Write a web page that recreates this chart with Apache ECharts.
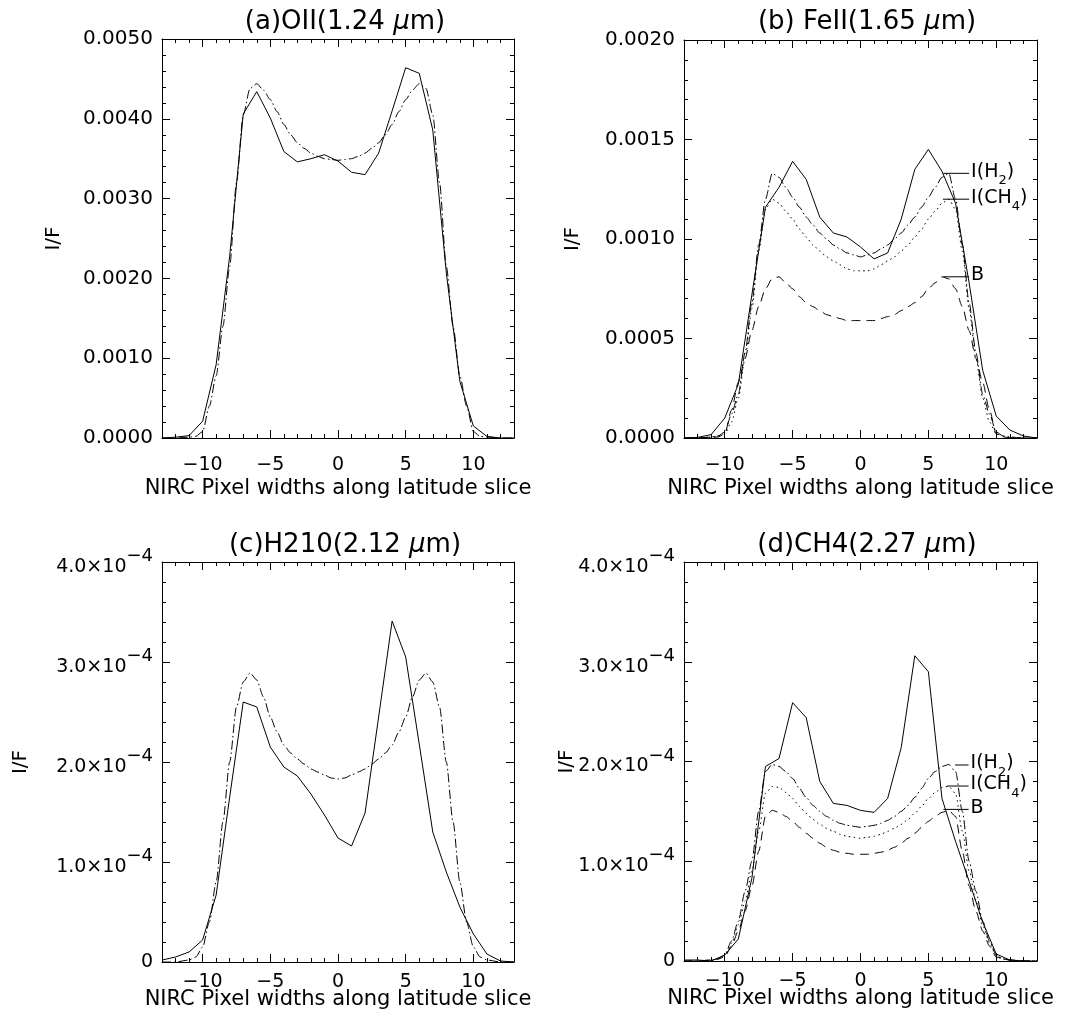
<!DOCTYPE html>
<html><head><meta charset="utf-8">
<script src="https://cdn.jsdelivr.net/npm/echarts@6/dist/echarts.min.js"></script>
<style>html,body{margin:0;padding:0;background:#fff}#c{width:1073px;height:1026px}</style>
</head><body><div id="c"></div>
<script>
// ---------------- data ----------------
const obs_x = [-13,-12,-11,-10,-9,-8,-7,-6,-5,-4,-3,-2,-1,0,1,2,3,4,5,6,7,8,9,10,11,12,13];
const a_obs = [0.00000,0.00001,0.00003,0.00021,0.00092,0.00228,0.00406,0.00434,0.00401,0.00359,0.00346,0.00350,0.00355,0.00347,0.00333,0.00330,0.00357,0.00410,0.00464,0.00457,0.00386,0.00207,0.00071,0.00015,0.00002,0.00000,0.00000];
const b_obs = [0,0.000003,0.000017,0.0001,0.00027,0.00072,0.00116,0.00126,0.00139,0.0013,0.00111,0.00103,0.00101,0.00096,0.0009,0.00093,0.0011,0.00135,0.00145,0.00134,0.00118,0.00078,0.00034,0.00011,0.00004,0.00001,0];
const c_obs = [0.000002,0.000005,0.00001,0.000022,0.000067,0.000165,0.00026,0.000255,0.000215,0.000195,0.000186,0.000168,0.000147,0.000124,0.000116,0.000149,0.000245,0.000341,0.000305,0.000218,0.00013,0.00009,0.000055,0.000028,0.000008,0.000001,0];
const d_obs = [0.000001,0.000001,0,0.000006,0.000022,0.000083,0.000195,0.000203,0.000259,0.000244,0.00018,0.000158,0.000156,0.000151,0.000149,0.000163,0.000214,0.000306,0.00029,0.000163,0.00012,0.00008,0.000039,0.000007,0.000001,0,0];

const model_x = [-13,-12,-11,-10.5,-10,-9.5,-9,-8.5,-8,-7.5,-7,-6.5,-6,-5.5,-5,-4.5,-4,-3.5,-3,-2.5,-2,-1.5,-1,-0.5,0,
                 0.5,1,1.5,2,2.5,3,3.5,4,4.5,5,5.5,6,6.5,7,7.5,8,8.5,9,9.5,10,10.5,11,12,13];
const a_model = [0,0,0.00001,0.00002,0.00008,0.0004,0.00078,0.0014,0.00215,0.0032,0.00405,0.00438,0.00444,0.00436,0.00424,0.00409,0.00393,0.0038,0.0037,0.00363,0.00357,0.00353,0.0035,0.00349,0.00348,
                 0.00349,0.0035,0.00353,0.00357,0.00363,0.0037,0.0038,0.00393,0.00409,0.00424,0.00436,0.00444,0.00438,0.00405,0.0032,0.00215,0.0014,0.00078,0.0004,0.00008,0.00002,0.00001,0,0];
const b_h2 = [0,0,0.000005,0.00001,0.00003,0.00012,0.00022,0.00043,0.00068,0.00097,0.0012,0.00133,0.00131,0.00126,0.00121,0.00116,0.00111,0.00107,0.00103,0.001,0.00097,0.00095,0.00093,0.00092,0.00091,
              0.00092,0.00093,0.00095,0.00097,0.001,0.00103,0.00107,0.00111,0.00116,0.00121,0.00126,0.00131,0.00133,0.0012,0.00097,0.00068,0.00043,0.00022,0.00012,0.00003,0.00001,0.000005,0,0];
const b_ch4 = [0,0,0.000003,0.00001,0.00002,0.00008,0.0002,0.0004,0.00065,0.00094,0.00115,0.0012,0.00118,0.00114,0.0011,0.00105,0.00101,0.00097,0.00094,0.00091,0.00089,0.00087,0.00085,0.00084,0.00084,
               0.00084,0.00085,0.00087,0.00089,0.00091,0.00094,0.00097,0.00101,0.00105,0.0011,0.00114,0.00118,0.0012,0.00115,0.00094,0.00065,0.0004,0.0002,0.00008,0.00002,0.00001,0.000003,0,0];
const b_b = [0,0,0.000002,0.000005,0.00002,0.00014,0.00028,0.0004,0.00054,0.00066,0.00075,0.0008,0.00081,0.00078,0.00075,0.00071,0.00068,0.00066,0.00064,0.00062,0.00061,0.0006,0.00059,0.00059,0.00059,
             0.00059,0.00059,0.0006,0.00061,0.00062,0.00064,0.00066,0.00068,0.00071,0.00075,0.00078,0.00081,0.0008,0.00075,0.00066,0.00054,0.0004,0.00028,0.00014,0.00002,0.000005,0.000002,0,0];
const c_model = [0,0,0.000002,0.000005,0.000015,0.00004,0.00008,0.00014,0.0002,0.000255,0.00028,0.000289,0.000282,0.000265,0.000245,0.00023,0.000217,0.000209,0.000203,0.000198,0.000193,0.00019,0.000187,0.000184,0.000183,
                 0.000184,0.000187,0.00019,0.000193,0.000198,0.000203,0.000209,0.000217,0.00023,0.000245,0.000265,0.000282,0.000289,0.00028,0.000255,0.0002,0.00014,0.00008,0.00004,0.000015,0.000005,0.000002,0,0];
const d_h2 = [0,0,0.000001,0.000002,0.000006,0.00002,0.00004,0.00007,0.0001,0.00015,0.00019,0.000197,0.000195,0.00019,0.000183,0.000173,0.000164,0.000156,0.00015,0.000145,0.000141,0.000138,0.000136,0.000135,0.000134,
              0.000135,0.000136,0.000138,0.000141,0.000145,0.00015,0.000156,0.000164,0.000173,0.000183,0.00019,0.000195,0.000197,0.00019,0.00015,0.0001,0.00007,0.00004,0.00002,0.000006,0.000002,0.000001,0,0];
const d_ch4 = [0,0,0.000001,0.000002,0.000005,0.000018,0.000036,0.00006,0.00009,0.00013,0.000168,0.000175,0.000174,0.000169,0.000163,0.000155,0.000148,0.000142,0.000137,0.000133,0.00013,0.000127,0.000125,0.000124,0.000123,
               0.000124,0.000125,0.000127,0.00013,0.000133,0.000137,0.000142,0.000148,0.000155,0.000163,0.000169,0.000174,0.000175,0.000168,0.00013,0.00009,0.00006,0.000036,0.000018,0.000005,0.000002,0.000001,0,0];
const d_b = [0,0,0.000001,0.000002,0.000004,0.000015,0.00003,0.00005,0.000075,0.00011,0.000145,0.000151,0.000149,0.000145,0.00014,0.000134,0.000128,0.000123,0.000118,0.000114,0.000111,0.000109,0.000108,0.000107,0.000107,
             0.000107,0.000108,0.000109,0.000111,0.000114,0.000118,0.000123,0.000128,0.000134,0.00014,0.000145,0.000149,0.000151,0.000145,0.00011,0.000075,0.00005,0.00003,0.000015,0.000004,0.000002,0.000001,0,0];

const titles = ['(a)OII(1.24 {i|μ}m)', '(b) FeII(1.65 {i|μ}m)', '(c)H210(2.12 {i|μ}m)', '(d)CH4(2.27 {i|μ}m)'];
const x_name = 'NIRC Pixel widths along latitude slice';
const y_name = 'I/F';
const y_max = [0.005, 0.002, 0.0004, 0.0004];
const y_step = [0.001, 0.0005, 0.0001, 0.0001];
const label_texts = ['{n|I(H}{s|2}{n|)}', '{n|I(CH}{s|4}{n|)}', '{n|B}'];
const b_label_y = [0.00133, 0.0012, 0.00081];
const b_label_x0 = [6.1, 6.07, 6.1];
const b_label_x1 = [8.0, 8.0, 8.0];
const d_label_y = [0.0001965, 0.0001754, 0.000152];
const d_label_x0 = [6.97, 6.36, 6.1];
const d_label_x1 = [7.96, 7.96, 7.96];

// ---------------- layout / styles ----------------
const FONT = "'DejaVu Sans', sans-serif";
const BLACK = '#000';
const grids = [
  {left:162, top:39,  width:352, height:399},
  {left:684, top:40,  width:353, height:398},
  {left:162, top:562, width:352, height:400},
  {left:684, top:562, width:353, height:399}
];
const titlePos = [[340, 4], [862, 4], [340, 527], [862, 527]];
const yNameGap = [98, 101, 131, 107];
const xLabelMargin = [18, 18, 11, 11];
const xNameGap = [40, 40, 27, 27];
const lineTypes = {obs:'solid', h2:[9,3,1.5,3], ch4:[1.5,3.5], b:[9,6]};

const zip = (xs, ys) => xs.map((x, i) => [x, ys[i]]);
const fixedFmt = v => v.toFixed(4);
const sciFmt = v => v === 0 ? '{m|0}' : '{m|' + (v * 1e4).toFixed(1) + '×10}{s|−4}';

const option = {
  animation: false,
  backgroundColor: '#fff',
  title: titles.map((t, i) => ({
    text: t, left: titlePos[i][0], top: titlePos[i][1], textAlign: 'center',
    textStyle: {fontFamily: FONT, fontSize: 26, fontWeight: 'normal', color: BLACK,
      rich: {i: {fontFamily: FONT, fontSize: 26, fontStyle: 'italic', color: BLACK}}}
  })),
  grid: grids.map(g => Object.assign({containLabel: false, outerBoundsMode: 'none'}, g)),
  xAxis: [], yAxis: [], series: []
};

const tickCommon = {
  axisLine: {show: true, onZero: false, lineStyle: {color: BLACK, width: 1}},
  axisTick: {show: true, inside: true, length: 8, lineStyle: {color: BLACK, width: 1}},
  minorTick: {show: true, splitNumber: 5, length: 4, lineStyle: {color: BLACK, width: 1}},
  splitLine: {show: false}, minorSplitLine: {show: false}
};
const tc = () => JSON.parse(JSON.stringify(tickCommon));

grids.forEach((g, i) => {
  option.xAxis.push(Object.assign({
    type: 'value', gridIndex: i, position: 'bottom', min: -13, max: 13, splitNumber: 5,
    name: x_name, nameLocation: 'middle', nameGap: xNameGap[i], nameMoveOverlap: false,
    nameTextStyle: {fontFamily: FONT, fontSize: 21, color: BLACK},
    axisLabel: {show: true, margin: xLabelMargin[i], fontFamily: FONT, fontSize: 19, color: BLACK,
      showMinLabel: false, showMaxLabel: false, formatter: v => String(v).replace('-', '−')}
  }, tc()));
  option.xAxis.push(Object.assign({
    type: 'value', gridIndex: i, position: 'top', min: -13, max: 13, splitNumber: 5,
    axisLabel: {show: false}
  }, tc()));
  const sci = i >= 2;
  option.yAxis.push(Object.assign({
    type: 'value', gridIndex: i, position: 'left', min: 0, max: y_max[i], interval: y_step[i],
    name: y_name, nameLocation: 'middle', nameGap: yNameGap[i], nameMoveOverlap: false,
    nameTextStyle: {fontFamily: FONT, fontSize: 20, color: BLACK},
    axisLabel: {show: true, margin: 9, fontFamily: FONT, fontSize: 20, color: BLACK,
      formatter: sci ? sciFmt : fixedFmt,
      rich: {m: {fontFamily: FONT, fontSize: 19, color: BLACK, verticalAlign: 'bottom'},
             s: {fontFamily: FONT, fontSize: 18, color: BLACK, verticalAlign: 'bottom', padding: [0,0,11,0]}}}
  }, tc()));
  option.yAxis.push(Object.assign({
    type: 'value', gridIndex: i, position: 'right', min: 0, max: y_max[i], interval: y_step[i],
    axisLabel: {show: false}
  }, tc()));
});

function addLine(panel, xs, ys, kind) {
  option.series.push({
    type: 'line', xAxisIndex: panel * 2, yAxisIndex: panel * 2,
    data: zip(xs, ys), symbol: 'none', showSymbol: false, silent: true,
    smooth: kind === 'obs' ? false : 0.25, smoothMonotone: 'x',
    lineStyle: {color: BLACK, width: 1, type: lineTypes[kind]}, z: kind === 'obs' ? 3 : 2
  });
}
function addLabel(panel, x0, x1, y, text) {
  option.series.push({
    type: 'line', xAxisIndex: panel * 2, yAxisIndex: panel * 2,
    data: [[x0, y], [x1, y]], symbol: 'none', showSymbol: false, silent: true, clip: false,
    lineStyle: {color: BLACK, width: 1, type: 'solid'},
    endLabel: {show: true, distance: 2, formatter: () => text,
      rich: {n: {fontFamily: FONT, fontSize: 19, color: BLACK, lineHeight: 22, verticalAlign: 'top'},
             s: {fontFamily: FONT, fontSize: 13, color: BLACK, lineHeight: 14, verticalAlign: 'top', padding: [12,0,0,0]}}}
  });
}

addLine(0, obs_x, a_obs, 'obs');
addLine(0, model_x, a_model, 'h2');

addLine(1, obs_x, b_obs, 'obs');
addLine(1, model_x, b_h2, 'h2');
addLine(1, model_x, b_ch4, 'ch4');
addLine(1, model_x, b_b, 'b');
label_texts.forEach((t, k) => addLabel(1, b_label_x0[k], b_label_x1[k], b_label_y[k], t));

addLine(2, obs_x, c_obs, 'obs');
addLine(2, model_x, c_model, 'h2');

addLine(3, obs_x, d_obs, 'obs');
addLine(3, model_x, d_h2, 'h2');
addLine(3, model_x, d_ch4, 'ch4');
addLine(3, model_x, d_b, 'b');
label_texts.forEach((t, k) => addLabel(3, d_label_x0[k], d_label_x1[k], d_label_y[k], t));

const chart = echarts.init(document.getElementById('c'), null, {renderer: 'canvas'});
chart.setOption(option);
</script>
</body></html>
